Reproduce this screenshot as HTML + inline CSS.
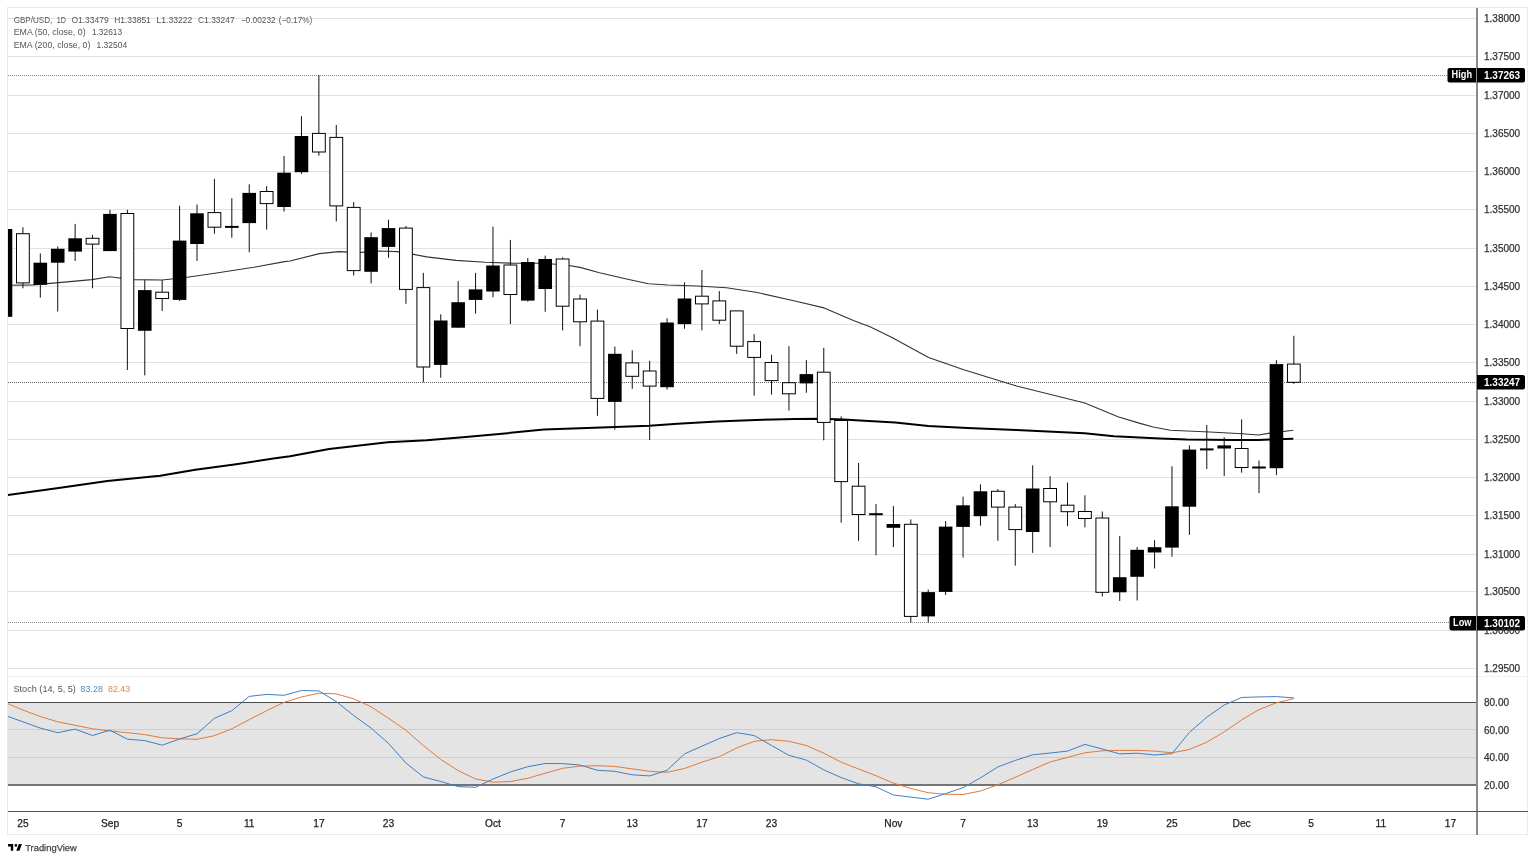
<!DOCTYPE html>
<html><head><meta charset="utf-8"><style>
html,body{margin:0;padding:0;background:#fff;width:1536px;height:861px;overflow:hidden}
svg{display:block}
.ov,.ov2{position:absolute;left:0;top:0;will-change:transform}
text{font-family:"Liberation Sans", sans-serif}
</style></head><body>
<svg width="1536" height="861" viewBox="0 0 1536 861">
<rect width="1536" height="861" fill="#fff"/>
<rect x="8" y="18" width="1468" height="1" fill="#e2e2e2"/>
<rect x="8" y="56" width="1468" height="1" fill="#e2e2e2"/>
<rect x="8" y="95" width="1468" height="1" fill="#e2e2e2"/>
<rect x="8" y="133" width="1468" height="1" fill="#e2e2e2"/>
<rect x="8" y="171" width="1468" height="1" fill="#e2e2e2"/>
<rect x="8" y="209" width="1468" height="1" fill="#e2e2e2"/>
<rect x="8" y="248" width="1468" height="1" fill="#e2e2e2"/>
<rect x="8" y="286" width="1468" height="1" fill="#e2e2e2"/>
<rect x="8" y="324" width="1468" height="1" fill="#e2e2e2"/>
<rect x="8" y="362" width="1468" height="1" fill="#e2e2e2"/>
<rect x="8" y="401" width="1468" height="1" fill="#e2e2e2"/>
<rect x="8" y="439" width="1468" height="1" fill="#e2e2e2"/>
<rect x="8" y="477" width="1468" height="1" fill="#e2e2e2"/>
<rect x="8" y="515" width="1468" height="1" fill="#e2e2e2"/>
<rect x="8" y="554" width="1468" height="1" fill="#e2e2e2"/>
<rect x="8" y="591" width="1468" height="1" fill="#e2e2e2"/>
<rect x="8" y="630" width="1468" height="1" fill="#e2e2e2"/>
<rect x="8" y="668" width="1468" height="1" fill="#e2e2e2"/>
<rect x="7" y="676" width="1521" height="1" fill="#f0f0f0"/>
<rect x="8" y="702" width="1468" height="83" fill="#e4e4e4"/>
<rect x="8" y="729" width="1468" height="1" fill="#cdcdcd"/>
<rect x="8" y="757" width="1468" height="1" fill="#cdcdcd"/>
<rect x="8" y="702" width="1468" height="1" fill="#4a4a4a"/>
<rect x="8" y="784" width="1468" height="2" fill="#747474"/>
<line x1="8" y1="75.5" x2="1447" y2="75.5" stroke="#8a8a8a" stroke-width="1" stroke-dasharray="1,1"/>
<line x1="8" y1="382.5" x2="1476" y2="382.5" stroke="#666" stroke-width="1" stroke-dasharray="1,1"/>
<line x1="8" y1="622.5" x2="1449" y2="622.5" stroke="#8a8a8a" stroke-width="1" stroke-dasharray="1,1"/>
<defs><clipPath id="cp"><rect x="8" y="8" width="1468" height="668"/></clipPath><clipPath id="cs"><rect x="8" y="677" width="1468" height="134"/></clipPath></defs>
<g clip-path="url(#cp)">
<polyline points="8.0,495.1 58.6,487.9 107.4,481.0 160.2,475.7 195.3,469.7 234.4,464.4 273.4,458.6 290.0,456.3 329.1,449.1 387.7,442.2 426.7,440.3 465.8,437.0 504.8,433.4 543.9,429.5 580.0,428.3 615.2,427.0 649.3,425.8 677.7,423.8 716.7,421.5 755.8,419.9 794.8,418.9 820.2,418.8 843.7,419.5 860.0,420.6 895.2,422.6 928.4,426.1 967.4,428.0 1016.3,430.0 1084.6,433.3 1113.9,436.3 1160.0,438.6 1186.5,439.6 1232.9,439.9 1258.5,440.1 1270.0,439.6 1293.3,438.7" fill="none" stroke="#000" stroke-width="2" stroke-linejoin="round"/>
<polyline points="8.0,285.5 11.7,285.3 33.2,284.9 58.6,282.6 91.8,279.6 109.4,276.7 132.8,279.6 162.1,280.0 185.5,277.5 214.8,273.2 253.9,267.3 283.2,261.9 290.0,261.0 319.3,253.6 338.8,251.6 358.4,252.6 377.9,251.0 397.4,251.6 411.1,253.9 426.7,256.9 456.0,260.4 485.3,262.3 514.6,263.3 543.9,263.3 567.3,265.3 580.0,267.4 599.5,272.7 628.8,279.5 648.4,283.8 667.9,285.0 697.2,286.0 726.5,287.7 755.8,292.2 794.8,301.0 824.1,307.9 853.4,320.5 870.0,326.8 891.5,337.2 928.6,357.5 963.8,369.8 1016.5,386.0 1084.8,403.0 1118.0,416.7 1140.0,423.4 1153.2,427.0 1170.2,430.3 1209.7,432.0 1242.2,433.8 1258.5,435.0 1270.0,433.1 1293.3,430.3" fill="none" stroke="#333" stroke-width="1.1" stroke-linejoin="round"/>
<rect x="4.99" y="229.0" width="1" height="87.8" fill="#111"/>
<rect x="-1.31" y="229.0" width="13.6" height="87.8" fill="#000"/>
<rect x="22.40" y="227.2" width="1" height="61.1" fill="#111"/>
<rect x="16.00" y="233.2" width="13.8" height="50.2" fill="#000"/>
<rect x="17.00" y="234.2" width="11.8" height="48.2" fill="#fff"/>
<rect x="39.81" y="253.4" width="1" height="44.2" fill="#111"/>
<rect x="33.51" y="262.7" width="13.6" height="22.1" fill="#000"/>
<rect x="57.22" y="246.5" width="1" height="65.0" fill="#111"/>
<rect x="50.92" y="248.8" width="13.6" height="13.9" fill="#000"/>
<rect x="74.63" y="223.9" width="1" height="37.0" fill="#111"/>
<rect x="68.33" y="238.3" width="13.6" height="13.3" fill="#000"/>
<rect x="92.04" y="234.8" width="1" height="53.5" fill="#111"/>
<rect x="85.64" y="237.8" width="13.8" height="6.8" fill="#000"/>
<rect x="86.64" y="238.8" width="11.8" height="4.8" fill="#fff"/>
<rect x="109.45" y="209.8" width="1" height="41.3" fill="#111"/>
<rect x="103.15" y="213.9" width="13.6" height="37.2" fill="#000"/>
<rect x="126.86" y="209.8" width="1" height="160.2" fill="#111"/>
<rect x="120.46" y="213.0" width="13.8" height="116.0" fill="#000"/>
<rect x="121.46" y="214.0" width="11.8" height="114.0" fill="#fff"/>
<rect x="144.27" y="280.1" width="1" height="95.3" fill="#111"/>
<rect x="137.97" y="290.1" width="13.6" height="40.7" fill="#000"/>
<rect x="161.68" y="280.1" width="1" height="30.9" fill="#111"/>
<rect x="155.28" y="291.7" width="13.8" height="7.3" fill="#000"/>
<rect x="156.28" y="292.7" width="11.8" height="5.3" fill="#fff"/>
<rect x="179.09" y="205.8" width="1" height="95.2" fill="#111"/>
<rect x="172.79" y="240.6" width="13.6" height="59.3" fill="#000"/>
<rect x="196.50" y="204.5" width="1" height="56.4" fill="#111"/>
<rect x="190.20" y="213.3" width="13.6" height="30.7" fill="#000"/>
<rect x="213.91" y="178.9" width="1" height="54.9" fill="#111"/>
<rect x="207.51" y="212.1" width="13.8" height="15.6" fill="#000"/>
<rect x="208.51" y="213.1" width="11.8" height="13.6" fill="#fff"/>
<rect x="231.32" y="198.2" width="1" height="39.5" fill="#111"/>
<rect x="225.02" y="225.9" width="13.6" height="2.0" fill="#000"/>
<rect x="248.73" y="184.3" width="1" height="68.0" fill="#111"/>
<rect x="242.43" y="192.9" width="13.6" height="30.2" fill="#000"/>
<rect x="266.14" y="186.1" width="1" height="43.5" fill="#111"/>
<rect x="259.74" y="191.0" width="13.8" height="13.1" fill="#000"/>
<rect x="260.74" y="192.0" width="11.8" height="11.1" fill="#fff"/>
<rect x="283.55" y="155.9" width="1" height="55.6" fill="#111"/>
<rect x="277.25" y="172.7" width="13.6" height="34.3" fill="#000"/>
<rect x="300.96" y="116.2" width="1" height="57.6" fill="#111"/>
<rect x="294.66" y="136.0" width="13.6" height="36.2" fill="#000"/>
<rect x="318.37" y="75.1" width="1" height="80.6" fill="#111"/>
<rect x="311.97" y="132.9" width="13.8" height="19.6" fill="#000"/>
<rect x="312.97" y="133.9" width="11.8" height="17.6" fill="#fff"/>
<rect x="335.78" y="125.0" width="1" height="96.4" fill="#111"/>
<rect x="329.38" y="136.9" width="13.8" height="69.5" fill="#000"/>
<rect x="330.38" y="137.9" width="11.8" height="67.5" fill="#fff"/>
<rect x="353.19" y="202.1" width="1" height="73.4" fill="#111"/>
<rect x="346.79" y="206.9" width="13.8" height="64.2" fill="#000"/>
<rect x="347.79" y="207.9" width="11.8" height="62.2" fill="#fff"/>
<rect x="370.60" y="232.5" width="1" height="50.9" fill="#111"/>
<rect x="364.30" y="237.2" width="13.6" height="34.6" fill="#000"/>
<rect x="388.01" y="219.7" width="1" height="38.1" fill="#111"/>
<rect x="381.71" y="228.1" width="13.6" height="18.8" fill="#000"/>
<rect x="405.42" y="226.0" width="1" height="77.8" fill="#111"/>
<rect x="399.02" y="227.6" width="13.8" height="62.3" fill="#000"/>
<rect x="400.02" y="228.6" width="11.8" height="60.3" fill="#fff"/>
<rect x="422.83" y="272.9" width="1" height="109.4" fill="#111"/>
<rect x="416.43" y="287.1" width="13.8" height="80.4" fill="#000"/>
<rect x="417.43" y="288.1" width="11.8" height="78.4" fill="#fff"/>
<rect x="440.24" y="314.3" width="1" height="63.4" fill="#111"/>
<rect x="433.94" y="320.5" width="13.6" height="44.4" fill="#000"/>
<rect x="457.65" y="281.1" width="1" height="46.6" fill="#111"/>
<rect x="451.35" y="302.2" width="13.6" height="25.5" fill="#000"/>
<rect x="475.06" y="272.9" width="1" height="40.7" fill="#111"/>
<rect x="468.76" y="289.4" width="13.6" height="10.5" fill="#000"/>
<rect x="492.47" y="226.7" width="1" height="70.6" fill="#111"/>
<rect x="486.17" y="265.5" width="13.6" height="26.0" fill="#000"/>
<rect x="509.88" y="239.9" width="1" height="84.1" fill="#111"/>
<rect x="503.48" y="264.5" width="13.8" height="30.5" fill="#000"/>
<rect x="504.48" y="265.5" width="11.8" height="28.5" fill="#fff"/>
<rect x="527.29" y="258.0" width="1" height="43.5" fill="#111"/>
<rect x="520.99" y="262.0" width="13.6" height="38.6" fill="#000"/>
<rect x="544.70" y="255.6" width="1" height="56.2" fill="#111"/>
<rect x="538.40" y="259.0" width="13.6" height="30.0" fill="#000"/>
<rect x="562.11" y="257.4" width="1" height="72.9" fill="#111"/>
<rect x="555.71" y="258.5" width="13.8" height="48.2" fill="#000"/>
<rect x="556.71" y="259.5" width="11.8" height="46.2" fill="#fff"/>
<rect x="579.52" y="294.6" width="1" height="51.5" fill="#111"/>
<rect x="573.12" y="298.5" width="13.8" height="23.8" fill="#000"/>
<rect x="574.12" y="299.5" width="11.8" height="21.8" fill="#fff"/>
<rect x="596.93" y="309.7" width="1" height="106.1" fill="#111"/>
<rect x="590.53" y="320.6" width="13.8" height="78.3" fill="#000"/>
<rect x="591.53" y="321.6" width="11.8" height="76.3" fill="#fff"/>
<rect x="614.34" y="346.6" width="1" height="83.1" fill="#111"/>
<rect x="608.04" y="353.8" width="13.6" height="48.1" fill="#000"/>
<rect x="631.75" y="350.3" width="1" height="38.5" fill="#111"/>
<rect x="625.35" y="362.4" width="13.8" height="14.4" fill="#000"/>
<rect x="626.35" y="363.4" width="11.8" height="12.4" fill="#fff"/>
<rect x="649.16" y="360.8" width="1" height="79.2" fill="#111"/>
<rect x="642.76" y="370.5" width="13.8" height="16.1" fill="#000"/>
<rect x="643.76" y="371.5" width="11.8" height="14.1" fill="#fff"/>
<rect x="666.57" y="318.3" width="1" height="71.3" fill="#111"/>
<rect x="660.27" y="322.5" width="13.6" height="64.7" fill="#000"/>
<rect x="683.98" y="282.3" width="1" height="46.4" fill="#111"/>
<rect x="677.68" y="298.5" width="13.6" height="25.6" fill="#000"/>
<rect x="701.39" y="270.0" width="1" height="60.3" fill="#111"/>
<rect x="694.99" y="295.7" width="13.8" height="8.7" fill="#000"/>
<rect x="695.99" y="296.7" width="11.8" height="6.7" fill="#fff"/>
<rect x="718.80" y="291.1" width="1" height="33.0" fill="#111"/>
<rect x="712.40" y="300.4" width="13.8" height="20.3" fill="#000"/>
<rect x="713.40" y="301.4" width="11.8" height="18.3" fill="#fff"/>
<rect x="736.21" y="310.9" width="1" height="43.0" fill="#111"/>
<rect x="729.81" y="310.4" width="13.8" height="36.3" fill="#000"/>
<rect x="730.81" y="311.4" width="11.8" height="34.3" fill="#fff"/>
<rect x="753.62" y="334.1" width="1" height="61.6" fill="#111"/>
<rect x="747.22" y="341.1" width="13.8" height="16.8" fill="#000"/>
<rect x="748.22" y="342.1" width="11.8" height="14.8" fill="#fff"/>
<rect x="771.03" y="354.8" width="1" height="39.7" fill="#111"/>
<rect x="764.63" y="362.0" width="13.8" height="19.1" fill="#000"/>
<rect x="765.63" y="363.0" width="11.8" height="17.1" fill="#fff"/>
<rect x="788.44" y="346.2" width="1" height="64.3" fill="#111"/>
<rect x="782.04" y="382.2" width="13.8" height="12.1" fill="#000"/>
<rect x="783.04" y="383.2" width="11.8" height="10.1" fill="#fff"/>
<rect x="805.85" y="360.1" width="1" height="32.6" fill="#111"/>
<rect x="799.55" y="374.1" width="13.6" height="9.3" fill="#000"/>
<rect x="823.26" y="347.8" width="1" height="92.5" fill="#111"/>
<rect x="816.86" y="371.7" width="13.8" height="51.2" fill="#000"/>
<rect x="817.86" y="372.7" width="11.8" height="49.2" fill="#fff"/>
<rect x="840.67" y="416.4" width="1" height="106.3" fill="#111"/>
<rect x="834.27" y="420.0" width="13.8" height="62.1" fill="#000"/>
<rect x="835.27" y="421.0" width="11.8" height="60.1" fill="#fff"/>
<rect x="858.08" y="463.0" width="1" height="77.8" fill="#111"/>
<rect x="851.68" y="485.7" width="13.8" height="29.3" fill="#000"/>
<rect x="852.68" y="486.7" width="11.8" height="27.3" fill="#fff"/>
<rect x="875.49" y="504.1" width="1" height="51.3" fill="#111"/>
<rect x="869.19" y="513.2" width="13.6" height="2.0" fill="#000"/>
<rect x="892.90" y="505.9" width="1" height="41.2" fill="#111"/>
<rect x="886.60" y="524.0" width="13.6" height="3.8" fill="#000"/>
<rect x="910.31" y="519.4" width="1" height="103.1" fill="#111"/>
<rect x="903.91" y="523.8" width="13.8" height="93.1" fill="#000"/>
<rect x="904.91" y="524.8" width="11.8" height="91.1" fill="#fff"/>
<rect x="927.72" y="589.6" width="1" height="32.9" fill="#111"/>
<rect x="921.42" y="592.1" width="13.6" height="24.3" fill="#000"/>
<rect x="945.13" y="521.0" width="1" height="73.9" fill="#111"/>
<rect x="938.83" y="526.6" width="13.6" height="65.3" fill="#000"/>
<rect x="962.54" y="496.7" width="1" height="60.8" fill="#111"/>
<rect x="956.24" y="505.3" width="13.6" height="21.6" fill="#000"/>
<rect x="979.95" y="484.3" width="1" height="41.4" fill="#111"/>
<rect x="973.65" y="491.3" width="13.6" height="24.9" fill="#000"/>
<rect x="997.36" y="489.0" width="1" height="51.8" fill="#111"/>
<rect x="990.96" y="490.8" width="13.8" height="16.8" fill="#000"/>
<rect x="991.96" y="491.8" width="11.8" height="14.8" fill="#fff"/>
<rect x="1014.77" y="504.1" width="1" height="61.5" fill="#111"/>
<rect x="1008.37" y="506.6" width="13.8" height="23.5" fill="#000"/>
<rect x="1009.37" y="507.6" width="11.8" height="21.5" fill="#fff"/>
<rect x="1032.18" y="465.3" width="1" height="87.6" fill="#111"/>
<rect x="1025.88" y="488.5" width="13.6" height="43.5" fill="#000"/>
<rect x="1049.59" y="476.2" width="1" height="70.8" fill="#111"/>
<rect x="1043.19" y="488.0" width="13.8" height="14.3" fill="#000"/>
<rect x="1044.19" y="489.0" width="11.8" height="12.3" fill="#fff"/>
<rect x="1067.00" y="482.5" width="1" height="43.6" fill="#111"/>
<rect x="1060.60" y="504.7" width="13.8" height="7.5" fill="#000"/>
<rect x="1061.60" y="505.7" width="11.8" height="5.5" fill="#fff"/>
<rect x="1084.41" y="495.3" width="1" height="32.0" fill="#111"/>
<rect x="1078.01" y="511.0" width="13.8" height="8.0" fill="#000"/>
<rect x="1079.01" y="512.0" width="11.8" height="6.0" fill="#fff"/>
<rect x="1101.82" y="511.5" width="1" height="85.0" fill="#111"/>
<rect x="1095.42" y="517.5" width="13.8" height="75.3" fill="#000"/>
<rect x="1096.42" y="518.5" width="11.8" height="73.3" fill="#fff"/>
<rect x="1119.23" y="536.1" width="1" height="64.9" fill="#111"/>
<rect x="1112.93" y="577.2" width="13.6" height="15.1" fill="#000"/>
<rect x="1136.64" y="547.0" width="1" height="53.5" fill="#111"/>
<rect x="1130.34" y="549.8" width="13.6" height="27.0" fill="#000"/>
<rect x="1154.05" y="540.2" width="1" height="28.3" fill="#111"/>
<rect x="1147.75" y="547.2" width="13.6" height="5.3" fill="#000"/>
<rect x="1171.46" y="466.3" width="1" height="90.4" fill="#111"/>
<rect x="1165.16" y="506.3" width="13.6" height="41.3" fill="#000"/>
<rect x="1188.87" y="445.4" width="1" height="89.4" fill="#111"/>
<rect x="1182.57" y="449.6" width="13.6" height="57.1" fill="#000"/>
<rect x="1206.28" y="425.0" width="1" height="44.1" fill="#111"/>
<rect x="1199.98" y="448.4" width="13.6" height="2.0" fill="#000"/>
<rect x="1223.69" y="437.3" width="1" height="38.8" fill="#111"/>
<rect x="1217.39" y="445.4" width="13.6" height="3.1" fill="#000"/>
<rect x="1241.10" y="419.4" width="1" height="53.2" fill="#111"/>
<rect x="1234.70" y="448.0" width="13.8" height="20.0" fill="#000"/>
<rect x="1235.70" y="449.0" width="11.8" height="18.0" fill="#fff"/>
<rect x="1258.51" y="460.5" width="1" height="32.6" fill="#111"/>
<rect x="1252.21" y="466.5" width="13.6" height="2.0" fill="#000"/>
<rect x="1275.92" y="360.2" width="1" height="115.0" fill="#111"/>
<rect x="1269.62" y="364.1" width="13.6" height="104.1" fill="#000"/>
<rect x="1293.33" y="335.8" width="1" height="48.1" fill="#111"/>
<rect x="1286.93" y="363.6" width="13.8" height="19.2" fill="#000"/>
<rect x="1287.93" y="364.6" width="11.8" height="17.2" fill="#fff"/>
</g>
<g clip-path="url(#cs)">
<polyline points="8.0,703.7 22.9,710.0 40.3,716.5 57.7,721.8 75.1,725.3 92.5,728.8 109.9,730.9 127.4,732.7 144.8,734.6 162.2,737.8 179.6,738.8 197.0,739.3 214.4,735.7 231.8,728.8 249.2,719.7 266.6,710.7 284.0,702.3 301.5,697.0 318.9,693.2 336.3,693.9 353.7,698.8 371.1,706.8 388.5,718.3 405.9,730.2 423.3,745.5 440.7,759.4 458.1,770.6 475.6,779.0 493.0,782.2 510.4,781.5 527.8,778.3 545.2,773.2 562.6,768.3 580.0,766.1 597.4,765.7 614.8,766.4 632.2,768.9 649.7,771.3 667.1,772.3 684.5,768.5 701.9,762.2 719.3,756.7 736.7,748.0 754.1,741.3 771.5,739.7 788.9,741.3 806.4,745.5 823.8,753.2 841.2,762.2 858.6,769.0 876.0,775.7 893.4,783.1 910.8,788.5 928.2,792.7 945.6,794.2 963.0,794.5 980.4,791.0 997.9,784.8 1015.3,777.3 1032.7,769.5 1050.1,762.0 1067.5,757.4 1084.9,752.8 1102.3,750.8 1119.7,750.4 1137.1,750.4 1154.6,751.1 1172.0,752.8 1189.4,749.5 1206.8,742.2 1224.2,731.9 1241.6,719.9 1259.0,709.6 1276.4,702.8 1293.8,698.6" fill="none" stroke="#e07a3c" stroke-width="1" stroke-linejoin="round"/>
<polyline points="8.0,716.5 22.9,721.8 40.3,728.1 57.7,732.7 75.1,729.1 92.5,735.5 109.9,730.2 127.4,739.2 144.8,740.6 162.2,745.2 179.6,739.0 197.0,733.7 214.4,718.3 231.8,710.7 249.2,696.4 266.6,694.4 284.0,695.3 301.5,690.5 318.9,690.9 336.3,701.6 353.7,715.5 371.1,728.1 388.5,743.4 405.9,762.9 423.3,776.9 440.7,781.5 458.1,786.6 475.6,787.3 493.0,779.0 510.4,772.0 527.8,766.7 545.2,763.5 562.6,763.6 580.0,765.0 597.4,770.3 614.8,771.3 632.2,774.8 649.7,775.9 667.1,770.3 684.5,753.9 701.9,746.2 719.3,738.5 736.7,732.7 754.1,735.5 771.5,745.5 788.9,755.3 806.4,760.1 823.8,769.9 841.2,777.6 858.6,783.8 876.0,786.8 893.4,795.0 910.8,797.1 928.2,799.2 945.6,793.6 963.0,787.7 980.4,777.9 997.9,766.9 1015.3,760.4 1032.7,754.8 1050.1,753.0 1067.5,751.1 1084.9,744.4 1102.3,749.0 1119.7,753.9 1137.1,753.2 1154.6,755.0 1172.0,753.6 1189.4,732.4 1206.8,717.2 1224.2,705.0 1241.6,697.5 1259.0,696.9 1276.4,696.6 1293.8,697.9" fill="none" stroke="#3f7fc4" stroke-width="1" stroke-linejoin="round"/>
</g>
<rect x="7" y="7" width="1521" height="1" fill="#e8e8e8"/>
<rect x="7" y="7" width="1" height="828" fill="#e8e8e8"/>
<rect x="1527" y="7" width="1" height="828" fill="#ededed"/>
<rect x="7" y="834" width="1521" height="1" fill="#e8e8e8"/>
<rect x="1476" y="8" width="2" height="827" fill="#8c8c8c"/>
<rect x="8" y="811" width="1520" height="1" fill="#555"/>
<path d="M1449.5,68 H1476.0 Q1476.0,68 1476.0,68 V82.5 Q1476.0,82.5 1476.0,82.5 H1449.5 Q1447.5,82.5 1447.5,80.5 V70 Q1447.5,68 1449.5,68 Z" fill="#000"/>
<path d="M1477,68 H1523 Q1525,68 1525,70 V80.5 Q1525,82.5 1523,82.5 H1477 Q1477,82.5 1477,82.5 V68 Q1477,68 1477,68 Z" fill="#000"/>
<path d="M1477,375 H1523 Q1525,375 1525,377 V387.5 Q1525,389.5 1523,389.5 H1477 Q1477,389.5 1477,389.5 V375 Q1477,375 1477,375 Z" fill="#000"/>
<path d="M1451.5,616 H1476.0 Q1476.0,616 1476.0,616 V630.5 Q1476.0,630.5 1476.0,630.5 H1451.5 Q1449.5,630.5 1449.5,628.5 V618 Q1449.5,616 1451.5,616 Z" fill="#000"/>
<path d="M1477,616 H1523 Q1525,616 1525,618 V628.5 Q1525,630.5 1523,630.5 H1477 Q1477,630.5 1477,630.5 V616 Q1477,616 1477,616 Z" fill="#000"/>
<g fill="#000"><path d="M8,843.9 H13.2 V850.8 H10.8 V846.6 H8 Z"/><circle cx="15.9" cy="845.4" r="1.35"/><path d="M18.8,843.9 H21.9 L19.4,850.8 H16.3 Z"/></g>
</svg>
<svg class="ov" width="1536" height="861" viewBox="0 0 1536 861">
<text x="1484" y="21.6" font-size="10" fill="#333" stroke="#333" stroke-width="0.25" text-anchor="start" font-weight="normal">1.38000</text>
<text x="1484" y="59.6" font-size="10" fill="#333" stroke="#333" stroke-width="0.25" text-anchor="start" font-weight="normal">1.37500</text>
<text x="1484" y="98.6" font-size="10" fill="#333" stroke="#333" stroke-width="0.25" text-anchor="start" font-weight="normal">1.37000</text>
<text x="1484" y="136.6" font-size="10" fill="#333" stroke="#333" stroke-width="0.25" text-anchor="start" font-weight="normal">1.36500</text>
<text x="1484" y="174.6" font-size="10" fill="#333" stroke="#333" stroke-width="0.25" text-anchor="start" font-weight="normal">1.36000</text>
<text x="1484" y="212.6" font-size="10" fill="#333" stroke="#333" stroke-width="0.25" text-anchor="start" font-weight="normal">1.35500</text>
<text x="1484" y="251.6" font-size="10" fill="#333" stroke="#333" stroke-width="0.25" text-anchor="start" font-weight="normal">1.35000</text>
<text x="1484" y="289.6" font-size="10" fill="#333" stroke="#333" stroke-width="0.25" text-anchor="start" font-weight="normal">1.34500</text>
<text x="1484" y="327.6" font-size="10" fill="#333" stroke="#333" stroke-width="0.25" text-anchor="start" font-weight="normal">1.34000</text>
<text x="1484" y="365.6" font-size="10" fill="#333" stroke="#333" stroke-width="0.25" text-anchor="start" font-weight="normal">1.33500</text>
<text x="1484" y="404.6" font-size="10" fill="#333" stroke="#333" stroke-width="0.25" text-anchor="start" font-weight="normal">1.33000</text>
<text x="1484" y="442.6" font-size="10" fill="#333" stroke="#333" stroke-width="0.25" text-anchor="start" font-weight="normal">1.32500</text>
<text x="1484" y="480.6" font-size="10" fill="#333" stroke="#333" stroke-width="0.25" text-anchor="start" font-weight="normal">1.32000</text>
<text x="1484" y="518.6" font-size="10" fill="#333" stroke="#333" stroke-width="0.25" text-anchor="start" font-weight="normal">1.31500</text>
<text x="1484" y="557.6" font-size="10" fill="#333" stroke="#333" stroke-width="0.25" text-anchor="start" font-weight="normal">1.31000</text>
<text x="1484" y="594.6" font-size="10" fill="#333" stroke="#333" stroke-width="0.25" text-anchor="start" font-weight="normal">1.30500</text>
<text x="1484" y="633.6" font-size="10" fill="#333" stroke="#333" stroke-width="0.25" text-anchor="start" font-weight="normal">1.30000</text>
<text x="1484" y="671.6" font-size="10" fill="#333" stroke="#333" stroke-width="0.25" text-anchor="start" font-weight="normal">1.29500</text>
<text x="1484" y="705.6" font-size="10" fill="#333" stroke="#333" stroke-width="0.25" text-anchor="start" font-weight="normal">80.00</text>
<text x="1484" y="733.6" font-size="10" fill="#333" stroke="#333" stroke-width="0.25" text-anchor="start" font-weight="normal">60.00</text>
<text x="1484" y="761.1" font-size="10" fill="#333" stroke="#333" stroke-width="0.25" text-anchor="start" font-weight="normal">40.00</text>
<text x="1484" y="788.6" font-size="10" fill="#333" stroke="#333" stroke-width="0.25" text-anchor="start" font-weight="normal">20.00</text>
<text x="22.9" y="826.5" font-size="10.2" fill="#222" stroke="#222" stroke-width="0.25" text-anchor="middle" font-weight="normal">25</text>
<text x="110.0" y="826.5" font-size="10.2" fill="#222" stroke="#222" stroke-width="0.25" text-anchor="middle" font-weight="normal">Sep</text>
<text x="179.6" y="826.5" font-size="10.2" fill="#222" stroke="#222" stroke-width="0.25" text-anchor="middle" font-weight="normal">5</text>
<text x="249.2" y="826.5" font-size="10.2" fill="#222" stroke="#222" stroke-width="0.25" text-anchor="middle" font-weight="normal">11</text>
<text x="318.9" y="826.5" font-size="10.2" fill="#222" stroke="#222" stroke-width="0.25" text-anchor="middle" font-weight="normal">17</text>
<text x="388.5" y="826.5" font-size="10.2" fill="#222" stroke="#222" stroke-width="0.25" text-anchor="middle" font-weight="normal">23</text>
<text x="493.0" y="826.5" font-size="10.2" fill="#222" stroke="#222" stroke-width="0.25" text-anchor="middle" font-weight="normal">Oct</text>
<text x="562.6" y="826.5" font-size="10.2" fill="#222" stroke="#222" stroke-width="0.25" text-anchor="middle" font-weight="normal">7</text>
<text x="632.2" y="826.5" font-size="10.2" fill="#222" stroke="#222" stroke-width="0.25" text-anchor="middle" font-weight="normal">13</text>
<text x="701.9" y="826.5" font-size="10.2" fill="#222" stroke="#222" stroke-width="0.25" text-anchor="middle" font-weight="normal">17</text>
<text x="771.5" y="826.5" font-size="10.2" fill="#222" stroke="#222" stroke-width="0.25" text-anchor="middle" font-weight="normal">23</text>
<text x="893.4" y="826.5" font-size="10.2" fill="#222" stroke="#222" stroke-width="0.25" text-anchor="middle" font-weight="normal">Nov</text>
<text x="963.0" y="826.5" font-size="10.2" fill="#222" stroke="#222" stroke-width="0.25" text-anchor="middle" font-weight="normal">7</text>
<text x="1032.7" y="826.5" font-size="10.2" fill="#222" stroke="#222" stroke-width="0.25" text-anchor="middle" font-weight="normal">13</text>
<text x="1102.3" y="826.5" font-size="10.2" fill="#222" stroke="#222" stroke-width="0.25" text-anchor="middle" font-weight="normal">19</text>
<text x="1172.0" y="826.5" font-size="10.2" fill="#222" stroke="#222" stroke-width="0.25" text-anchor="middle" font-weight="normal">25</text>
<text x="1241.6" y="826.5" font-size="10.2" fill="#222" stroke="#222" stroke-width="0.25" text-anchor="middle" font-weight="normal">Dec</text>
<text x="1311.2" y="826.5" font-size="10.2" fill="#222" stroke="#222" stroke-width="0.25" text-anchor="middle" font-weight="normal">5</text>
<text x="1380.9" y="826.5" font-size="10.2" fill="#222" stroke="#222" stroke-width="0.25" text-anchor="middle" font-weight="normal">11</text>
<text x="1450.5" y="826.5" font-size="10.2" fill="#222" stroke="#222" stroke-width="0.25" text-anchor="middle" font-weight="normal">17</text>
<text x="13.7" y="22.6" font-size="8.6" fill="#555" textLength="38.6" lengthAdjust="spacingAndGlyphs">GBP/USD,</text>
<text x="56.75" y="22.6" font-size="8.6" fill="#555" textLength="9.1" lengthAdjust="spacingAndGlyphs">1D</text>
<text x="71.5" y="22.6" font-size="8.6" fill="#555" textLength="37.1" lengthAdjust="spacingAndGlyphs">O1.33479</text>
<text x="114.25" y="22.6" font-size="8.6" fill="#555" textLength="36.5" lengthAdjust="spacingAndGlyphs">H1.33851</text>
<text x="156.4" y="22.6" font-size="8.6" fill="#555" textLength="36.0" lengthAdjust="spacingAndGlyphs">L1.33222</text>
<text x="198" y="22.6" font-size="8.6" fill="#555" textLength="36.6" lengthAdjust="spacingAndGlyphs">C1.33247</text>
<text x="240.7" y="22.6" font-size="8.6" fill="#555" textLength="35.0" lengthAdjust="spacingAndGlyphs">−0.00232</text>
<text x="278.75" y="22.6" font-size="8.6" fill="#555" textLength="33.5" lengthAdjust="spacingAndGlyphs">(−0.17%)</text>
<text x="13.7" y="35.3" font-size="8.6" fill="#555" textLength="71.9" lengthAdjust="spacingAndGlyphs">EMA (50, close, 0)</text>
<text x="91.9" y="35.3" font-size="8.6" fill="#555" textLength="30.2" lengthAdjust="spacingAndGlyphs">1.32613</text>
<text x="13.7" y="47.8" font-size="8.6" fill="#555" textLength="76.7" lengthAdjust="spacingAndGlyphs">EMA (200, close, 0)</text>
<text x="96.5" y="47.8" font-size="8.6" fill="#555" textLength="30.6" lengthAdjust="spacingAndGlyphs">1.32504</text>
<text x="13.5" y="692.2" font-size="9.6" fill="#555" textLength="62.4" lengthAdjust="spacingAndGlyphs">Stoch (14, 5, 5)</text>
<text x="80.6" y="692.2" font-size="9.6" fill="#4a8fc8" textLength="22.4" lengthAdjust="spacingAndGlyphs">83.28</text>
<text x="108" y="692.2" font-size="9.6" fill="#e0884a" textLength="22.2" lengthAdjust="spacingAndGlyphs">82.43</text>
<text x="25.2" y="851.1" font-size="9.4" fill="#444" stroke="#444" stroke-width="0.25" text-anchor="start" font-weight="normal">TradingView</text>
</svg>
<svg class="ov2" width="1536" height="861" viewBox="0 0 1536 861">
<text x="1451.6" y="78.4" font-size="10.5" fill="#fff" font-weight="bold" textLength="20.4" lengthAdjust="spacingAndGlyphs">High</text>
<text x="1484" y="78.8" font-size="10" fill="#fff" text-anchor="start" font-weight="bold">1.37263</text>
<text x="1484" y="385.8" font-size="10" fill="#fff" text-anchor="start" font-weight="bold">1.33247</text>
<text x="1453.1" y="626.4" font-size="10.5" fill="#fff" font-weight="bold" textLength="18.4" lengthAdjust="spacingAndGlyphs">Low</text>
<text x="1484" y="626.8" font-size="10" fill="#fff" text-anchor="start" font-weight="bold">1.30102</text>
</svg>
</body></html>
